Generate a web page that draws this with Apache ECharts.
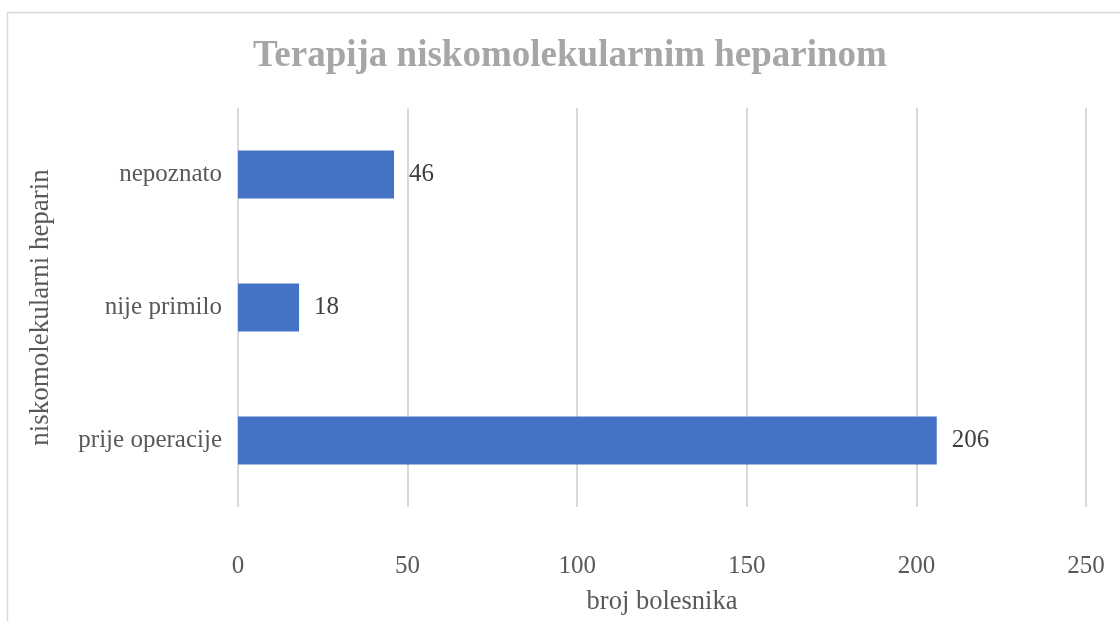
<!DOCTYPE html>
<html><head><meta charset="utf-8">
<script src="https://cdn.jsdelivr.net/npm/echarts@6/dist/echarts.min.js"></script>
<style>html,body{margin:0;padding:0;background:#fff}#c{width:1120px;height:621px}</style>
</head><body><div id="c"></div>
<script>
const categories = ['prije operacije', 'nije primilo', 'nepoznato'];
const values = [206, 18, 46];
const xTicks = [0, 50, 100, 150, 200, 250];
const titleText = 'Terapija niskomolekularnim heparinom';
const xName = 'broj bolesnika';
const yName = 'niskomolekularni heparin';

const FONT = '"Liberation Serif", "Times New Roman", serif';
const chart = echarts.init(document.getElementById('c'), null, {renderer: 'canvas'});
chart.setOption({
  animation: false,
  textStyle: {fontFamily: FONT},
  graphic: [
    {type: 'rect', shape: {x: 7.5, y: 12.5, width: 1300, height: 800}, style: {fill: 'none', stroke: '#d9d9d9', lineWidth: 1.5}, silent: true},
    {type: 'text', x: 570, y: 56, style: {text: titleText, fontFamily: FONT, fontSize: 37, fontWeight: 'bold', fill: '#a6a6a6', align: 'center', verticalAlign: 'middle'}, silent: true}
  ],
  grid: {left: 238, right: 34, top: 108, bottom: 107},
  xAxis: {
    type: 'value', min: xTicks[0], max: xTicks[xTicks.length - 1], interval: xTicks[1] - xTicks[0],
    name: xName, nameLocation: 'middle', nameGap: 82,
    nameTextStyle: {fontFamily: FONT, fontSize: 26.5, color: '#595959'},
    axisLine: {show: false}, axisTick: {show: false},
    axisLabel: {fontFamily: FONT, fontSize: 25, color: '#595959', margin: 47},
    splitLine: {lineStyle: {color: '#d9d9d9', width: 2}}
  },
  yAxis: {
    type: 'category', data: categories,
    name: yName, nameLocation: 'middle', nameGap: 184, nameRotate: 90,
    nameTextStyle: {fontFamily: FONT, fontSize: 27, color: '#595959'},
    axisLine: {show: false}, axisTick: {show: false},
    axisLabel: {fontFamily: FONT, fontSize: 25, color: '#595959', margin: 16}
  },
  series: [{
    type: 'bar', data: values, barWidth: 48,
    itemStyle: {color: '#4472c4'},
    label: {show: true, position: 'right', distance: 15, fontFamily: FONT, fontSize: 25, color: '#404040'}
  }]
});
</script></body></html>
